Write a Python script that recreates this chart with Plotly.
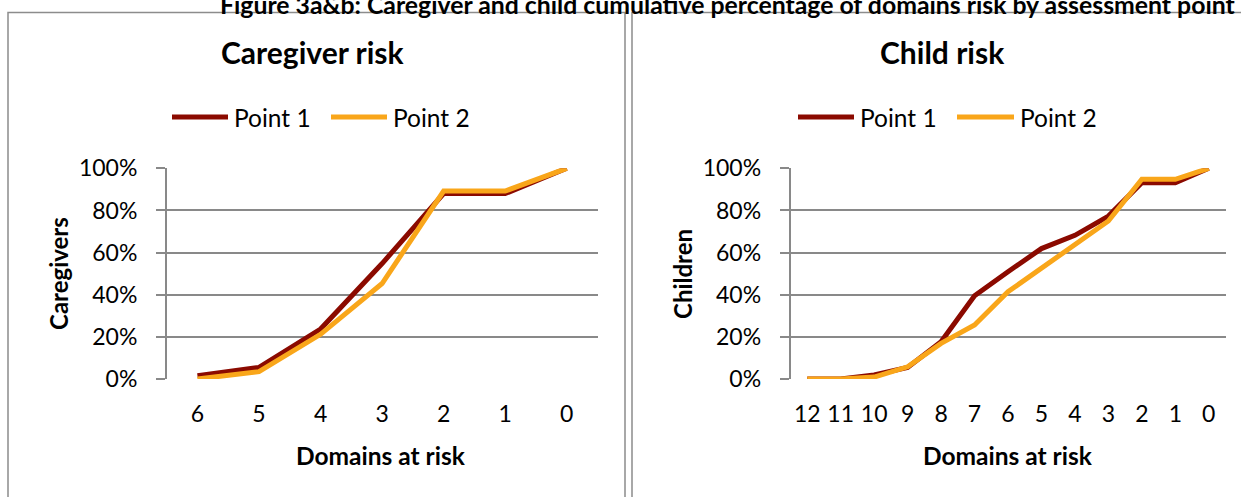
import plotly.graph_objects as go

# Cumulative share of respondents by number of domains at risk
caregiver_domains = ["6", "5", "4", "3", "2", "1", "0"]
caregiver_point1 = [0.015, 0.055, 0.237, 0.548, 0.880, 0.880, 1.000]
caregiver_point2 = [0.000, 0.035, 0.212, 0.453, 0.892, 0.892, 1.000]

child_domains = ["12", "11", "10", "9", "8", "7", "6", "5", "4", "3", "2", "1", "0"]
child_point1 = [0.000, 0.000, 0.019, 0.055, 0.177, 0.395, 0.509, 0.619, 0.682, 0.773, 0.932, 0.932, 1.000]
child_point2 = [0.000, 0.000, 0.009, 0.058, 0.169, 0.256, 0.414, 0.525, 0.643, 0.750, 0.948, 0.948, 1.000]

series_names = ["Point 1", "Point 2"]
series_colors = ["#8B0A00", "#F9A61A"]
y_ticks = [0, 0.2, 0.4, 0.6, 0.8, 1.0]

W, H = 1241, 497
FONT = "Lato"
GRID = "#898989"


def px(x):
    return x / W


def py(y):
    return 1 - y / H


fig = go.Figure()

panels = [
    ("x", "y", caregiver_domains, [caregiver_point1, caregiver_point2]),
    ("x2", "y2", child_domains, [child_point1, child_point2]),
]
for xa, ya, cats, series in panels:
    for name, color, vals in zip(series_names, series_colors, series):
        fig.add_trace(go.Scatter(
            x=cats, y=vals, mode="lines", name=name,
            line=dict(color=color, width=5),
            xaxis=xa, yaxis=ya, showlegend=False,
            hovertemplate="%{x}: %{y:.0%}<extra>" + name + "</extra>",
        ))

tick_font = dict(family=FONT, size=23, color="#000000")


def x_axis(cats, domain):
    return dict(
        domain=domain, type="category", categoryorder="array", categoryarray=cats,
        range=[-0.5, len(cats) - 0.5], showgrid=False, showline=False, zeroline=False,
        ticks="", tickfont=tick_font, ticklabelstandoff=19, fixedrange=True,
        automargin=False,
    )


def y_axis(anchor):
    return dict(
        domain=[py(379), py(168.3)], range=[0, 1], anchor=anchor,
        tickvals=y_ticks, tickformat=".0%", tickfont=tick_font,
        showgrid=True, gridcolor=GRID, gridwidth=1.5,
        showline=True, linecolor=GRID, linewidth=1.5,
        ticks="outside", ticklen=9, tickcolor=GRID, tickwidth=1.5,
        ticklabelstandoff=14, zeroline=False, fixedrange=True,
        automargin=False,
    )


fig.update_layout(
    template="none",
    width=W, height=H,
    margin=dict(l=0, r=0, t=0, b=0, pad=0),
    paper_bgcolor="white", plot_bgcolor="white",
    font=dict(family=FONT, color="#000000"),
    xaxis=x_axis(caregiver_domains, [px(166.7), px(597.5)]),
    yaxis=y_axis("x"),
    xaxis2=x_axis(child_domains, [px(790.5), px(1225.5)]),
    yaxis2=y_axis("x2"),
)

# Chart frames
for x0, x1 in [(8, 625), (632, 1260)]:
    fig.add_shape(type="rect", xref="paper", yref="paper",
                  x0=px(x0), x1=px(x1), y0=py(520), y1=py(12.5),
                  line=dict(color="#8C8C8C", width=1.5), fillcolor="rgba(0,0,0,0)")

annotations = []


def text(t, x, y, size, bold=False, xanchor="center", yanchor="middle", angle=0):
    annotations.append(dict(
        text=f"<b>{t}</b>" if bold else t, x=px(x), y=py(y), xref="paper", yref="paper",
        xanchor=xanchor, yanchor=yanchor, showarrow=False, textangle=angle,
        font=dict(family=FONT, size=size, color="#000000"),
    ))


text("Figure 3a&b: Caregiver and child cumulative percentage of domains risk by assessment point",
     218, 4, 24.8, bold=True, xanchor="left")

text("Caregiver risk", 313, 52, 30, bold=True)
text("Child risk", 942, 52, 30, bold=True)

text("Domains at risk", 381, 455, 24.5, bold=True)
text("Domains at risk", 1008, 455, 24.5, bold=True)

text("Caregivers", 58, 274, 24, bold=True, angle=-90)
text("Children", 682, 274, 24, bold=True, angle=-90)

# Legends
legend_rows = [
    [(172, 228, 232), (331, 387, 391)],
    [(798, 854, 858), (957, 1014, 1018)],
]
for row in legend_rows:
    for (lx0, lx1, tx), name, color in zip(row, series_names, series_colors):
        fig.add_shape(type="line", xref="paper", yref="paper",
                      x0=px(lx0), x1=px(lx1), y0=py(117), y1=py(117),
                      line=dict(color=color, width=5))
        text(name, tx, 117, 24.5, xanchor="left")

fig.update_layout(annotations=annotations)

fig.write_html("out.html")
